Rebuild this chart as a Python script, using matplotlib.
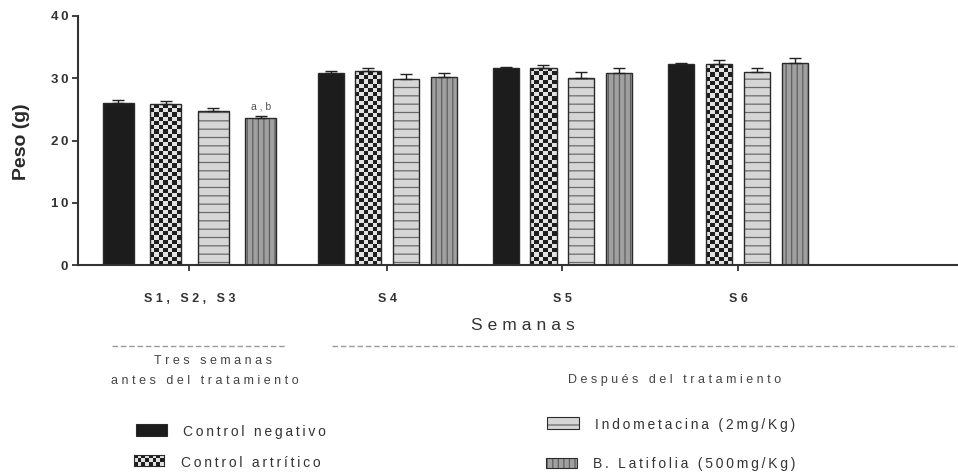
import matplotlib
matplotlib.use('Agg')
import matplotlib.pyplot as plt
import numpy as np
from matplotlib.colors import ListedColormap
from matplotlib.lines import Line2D
from matplotlib.patches import Rectangle

plt.rcParams['font.family'] = ['Liberation Sans', 'DejaVu Sans']
plt.rcParams['hatch.linewidth'] = 0.9

semanas = ['S1, S2, S3', 'S4', 'S5', 'S6']
grupos = ['Control negativo', 'Control artrítico',
          'Indometacina (2mg/Kg)', 'B. Latifolia (500mg/Kg)']

control_neg = [26.1, 30.9, 31.65, 32.35]
control_neg_err = [0.4, 0.25, 0.15, 0.15]
control_art = [25.8, 31.1, 31.65, 32.25]
control_art_err = [0.5, 0.5, 0.5, 0.7]
indometacina = [24.7, 29.9, 30.05, 31.0]
indometacina_err = [0.5, 0.8, 1.0, 0.65]
latifolia = [23.55, 30.15, 30.9, 32.5]
latifolia_err = [0.4, 0.75, 0.7, 0.7]

series = [control_neg, control_art, indometacina, latifolia]
errores = [control_neg_err, control_art_err, indometacina_err, latifolia_err]

# group layout: the first block (before treatment) is drawn wider
centros = np.array([0.0, 1.13, 2.13, 3.133])
paso = np.array([0.271, 0.216, 0.216, 0.216])
ancho = np.array([0.177, 0.149, 0.149, 0.149])

EDGE = '#2a2a2a'
CHECKER = ListedColormap(['#1e1e1e', '#e2e2e2'])


def spaced(s, sep='\u2009'):
    return sep.join(s)


def checker_fill(ax, rect, cell_px=4.2):
    x0, y0 = rect.get_x(), rect.get_y()
    w, h = rect.get_width(), rect.get_height()
    p0 = ax.transData.transform((x0, y0))
    p1 = ax.transData.transform((x0 + w, y0 + h))
    nx = max(1, int(round((p1[0] - p0[0]) / cell_px)))
    ny = max(1, int(round((p1[1] - p0[1]) / cell_px)))
    board = np.indices((ny, nx)).sum(axis=0) % 2
    im = ax.imshow(board, cmap=CHECKER, extent=[x0, x0 + w, y0, y0 + h],
                   interpolation='nearest', aspect='auto', origin='lower',
                   zorder=2)
    im.set_clip_path(rect)


fig = plt.figure(figsize=(9.58, 4.73), dpi=100)
ax = fig.add_axes([0.0814, 0.4397, 0.9186, 0.5265])
ax.set_xlim(-0.637, 4.39)
ax.set_ylim(0, 40)

estilos = [
    dict(color='#1c1c1c', hatch=None, hatch_color=None),
    dict(color='white', hatch=None, hatch_color=None),
    dict(color='#d6d6d6', hatch='--', hatch_color='#6a6a6a'),
    dict(color='#a0a0a0', hatch='|||', hatch_color='#5e5e5e'),
]

for k, (vals, errs, est) in enumerate(zip(series, errores, estilos)):
    xs = centros + (k - 1.5) * paso
    if est['hatch']:
        ax.bar(xs, vals, ancho, color=est['color'], hatch=est['hatch'],
               edgecolor=est['hatch_color'], linewidth=0, zorder=2)
    else:
        barras = ax.bar(xs, vals, ancho, color=est['color'], linewidth=0,
                        zorder=2)
        if k == 1:
            for r in barras:
                checker_fill(ax, r)
    ax.bar(xs, vals, ancho, fill=False, edgecolor=EDGE, linewidth=1.0,
           zorder=3)
    ax.errorbar(xs, vals, yerr=[np.zeros(len(vals)), errs], fmt='none',
                ecolor='#222222', elinewidth=1.0, capsize=4, capthick=1.0,
                zorder=4)

# significance mark over B. Latifolia before treatment
x_ab = centros[0] + 1.5 * paso[0]
ax.annotate('a , b', xy=(x_ab, latifolia[0] + latifolia_err[0]),
            xytext=(0, 3), textcoords='offset points', ha='center',
            va='bottom', fontsize=7.5, color='#555555')

ax.set_xlim(-0.637, 4.39)
ax.set_ylim(0, 40)

for s in ['top', 'right']:
    ax.spines[s].set_visible(False)
for s in ['left', 'bottom']:
    ax.spines[s].set_linewidth(1.5)
    ax.spines[s].set_color('#333333')

ax.set_yticks([0, 10, 20, 30, 40])
ax.set_yticklabels([spaced(str(v)) for v in [0, 10, 20, 30, 40]],
                   fontweight='bold', fontsize=9.5, color='#333333')
ax.set_xticks(centros)
ax.set_xticklabels([spaced(s, '\u2009\u200a') for s in semanas],
                   fontweight='bold', fontsize=9, color='#333333')
ax.tick_params(axis='y', direction='out', length=4, width=1.3, pad=3,
               color='#333333')
ax.tick_params(axis='x', direction='out', length=4, width=1.3, pad=16,
               color='#333333')

fig.text(22 / 958, 1 - 142 / 473, 'Peso (g)', rotation=90, ha='center',
         va='center', fontsize=14, fontweight='bold', color='#2a2a2a')
fig.text(0.546, 0.311, spaced('Semanas', '\u2009\u200a'), ha='center',
         va='center', fontsize=12.5, color='#333333')

# bracket lines for the two periods
y_lin = 1 - 346 / 473
fig.add_artist(Line2D([112 / 958, 287 / 958], [y_lin, y_lin],
                      transform=fig.transFigure, color='#9a9a9a', lw=1,
                      linestyle=(0, (4, 2))))
fig.add_artist(Line2D([332 / 958, 958 / 958], [y_lin, y_lin],
                      transform=fig.transFigure, color='#9a9a9a', lw=1,
                      linestyle=(0, (4, 2))))

txt = dict(fontsize=9, color='#444444')
sep2 = '\u2009\u200a'
fig.text(212.5 / 958, 1 - 361 / 473, spaced('Tres semanas', sep2),
         ha='center', va='center', **txt)
fig.text(204.5 / 958, 1 - 381 / 473, spaced('antes del tratamiento', sep2),
         ha='center', va='center', **txt)
fig.text(675 / 958, 1 - 380 / 473, spaced('Después del tratamiento', sep2),
         ha='center', va='center', **txt)

# legend, laid out by hand in two columns
leg = dict(fontsize=10, color='#333333', ha='left', va='center')
fig.add_artist(Rectangle((0.142, 0.0782), 0.0324, 0.0254,
                         transform=fig.transFigure, facecolor='#1c1c1c',
                         edgecolor=EDGE, lw=0.8))
fig.text(183 / 958, 1 - 432 / 473, spaced(grupos[0]), **leg)

cax = fig.add_axes([0.140, 0.0148, 0.0313, 0.0233])
cax.imshow(np.indices((3, 8)).sum(axis=0) % 2, cmap=CHECKER,
           interpolation='nearest', aspect='auto')
cax.set_xticks([])
cax.set_yticks([])
for s in cax.spines.values():
    s.set_color(EDGE)
    s.set_linewidth(0.8)
fig.text(181 / 958, 1 - 463 / 473, spaced(grupos[1]), **leg)

fig.add_artist(Rectangle((0.571, 0.093), 0.0334, 0.0254,
                         transform=fig.transFigure, facecolor='#d6d6d6',
                         edgecolor='#6a6a6a', hatch='-', lw=0))
fig.add_artist(Rectangle((0.571, 0.093), 0.0334, 0.0254,
                         transform=fig.transFigure, fill=False,
                         edgecolor=EDGE, lw=0.8))
fig.text(595 / 958, 1 - 425 / 473, spaced(grupos[2]), **leg)

fig.add_artist(Rectangle((0.570, 0.0106), 0.0324, 0.021,
                         transform=fig.transFigure, facecolor='#a0a0a0',
                         edgecolor='#5e5e5e', hatch='|||', lw=0))
fig.add_artist(Rectangle((0.570, 0.0106), 0.0324, 0.021,
                         transform=fig.transFigure, fill=False,
                         edgecolor=EDGE, lw=0.8))
fig.text(593 / 958, 1 - 464 / 473, spaced(grupos[3]), **leg)

fig.savefig('out.png', dpi=100)
